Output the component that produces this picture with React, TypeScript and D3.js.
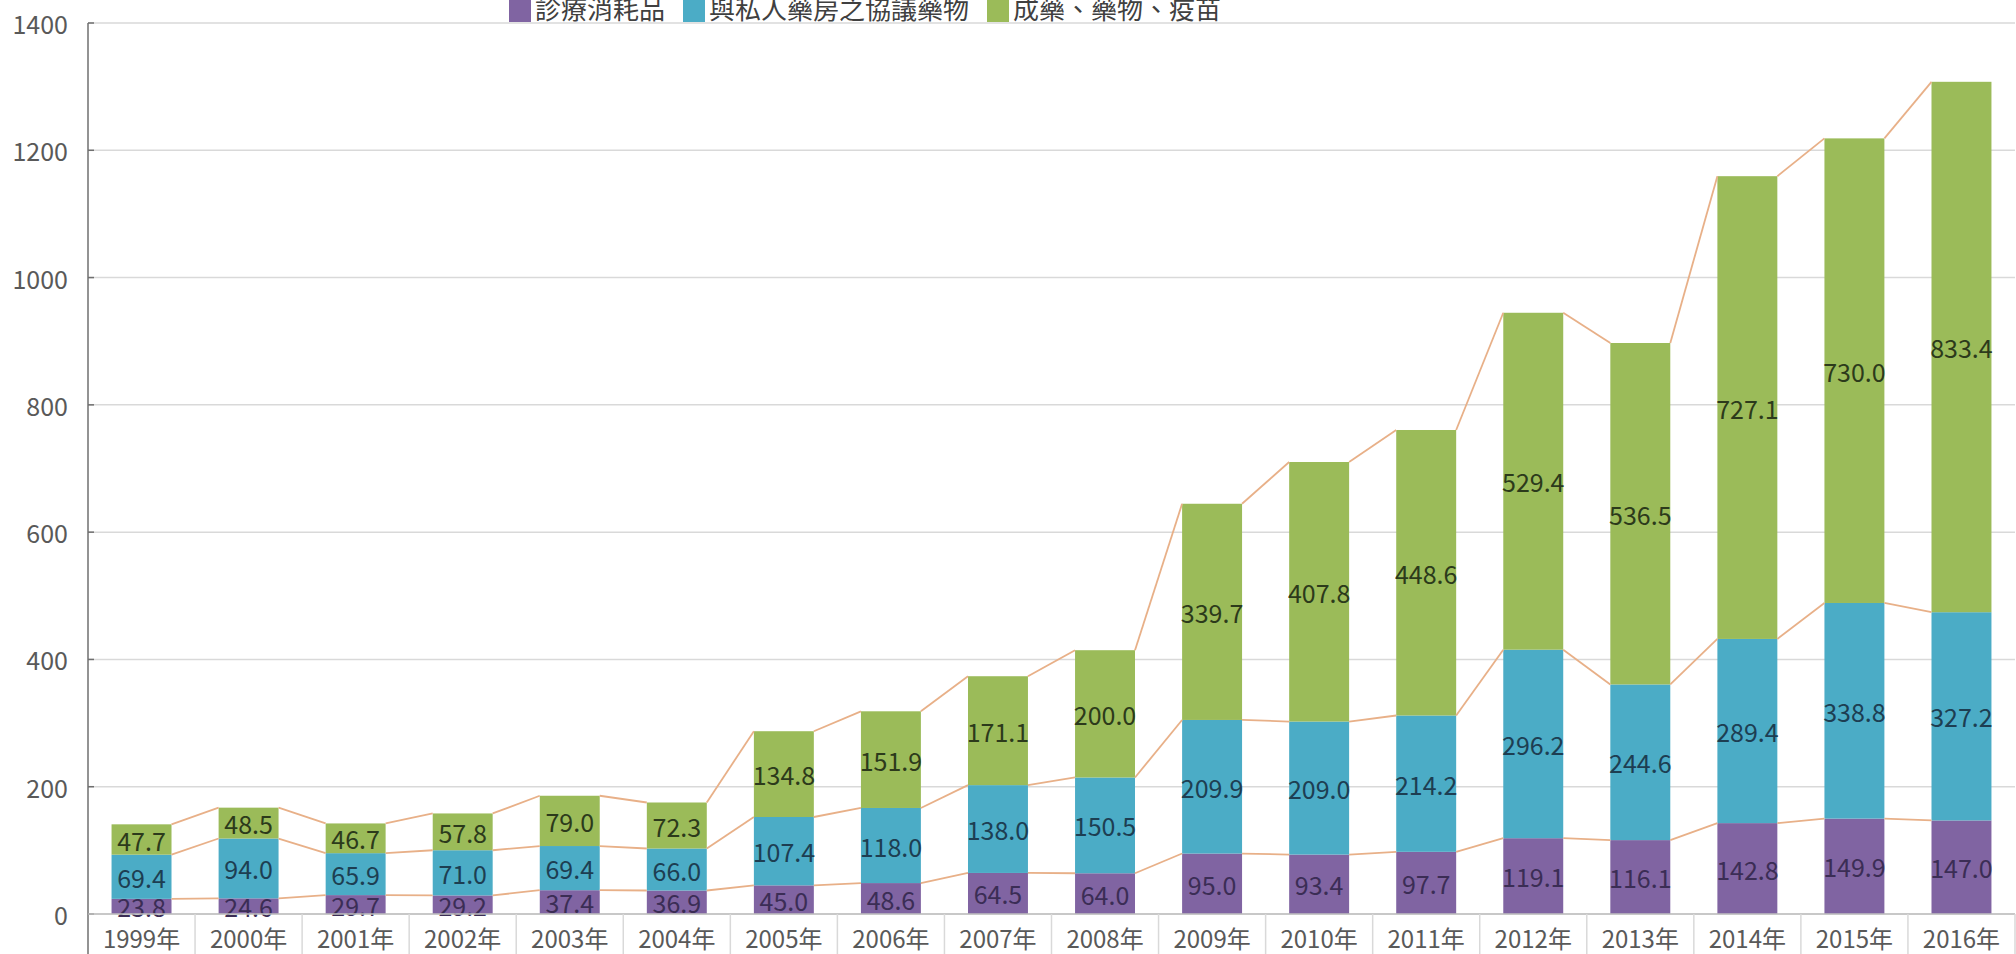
import React from "react";
import * as d3 from "d3";

const years = ["1999年","2000年","2001年","2002年","2003年","2004年","2005年","2006年","2007年","2008年","2009年","2010年","2011年","2012年","2013年","2014年","2015年","2016年"];
const consumables = [23.8,24.6,29.7,29.2,37.4,36.9,45.0,48.6,64.5,64.0,95.0,93.4,97.7,119.1,116.1,142.8,149.9,147.0];
const pharmacyDrugs = [69.4,94.0,65.9,71.0,69.4,66.0,107.4,118.0,138.0,150.5,209.9,209.0,214.2,296.2,244.6,289.4,338.8,327.2];
const medicines = [47.7,48.5,46.7,57.8,79.0,72.3,134.8,151.9,171.1,200.0,339.7,407.8,448.6,529.4,536.5,727.1,730.0,833.4];
const seriesNames = ["診療消耗品","與私人藥房之協議藥物","成藥、藥物、疫苗"];
const yTicks = [0,200,400,600,800,1000,1200,1400];

const W = 2016, H = 954;
const left = 88, right = 2015, top = 23, bottom = 914;
const colors = ["#8064A2","#4BACC6","#9BBB59"];
const labelColors = ["#3b2d55","#1d3e52","#2c3a1b"];
const FONT = "'Noto Sans CJK TC', 'Noto Sans', sans-serif";

export default function App() {
  const x = d3.scaleBand<string>().domain(years).range([left, right]).paddingInner(0.44).paddingOuter(0.22);
  const y = d3.scaleLinear().domain([0, 1400]).range([bottom, top]);
  const seriesVals = [consumables, pharmacyDrugs, medicines];
  const table = years.map((yr, i) => ({ year: yr, s0: consumables[i], s1: pharmacyDrugs[i], s2: medicines[i] }));
  const stack = d3.stack<any>().keys(["s0","s1","s2"])(table);
  const bw = x.bandwidth();
  const step = x.step();

  const lineGen = d3.line<[number, number]>().x(d => d[0]).y(d => d[1]);

  // legend layout
  const legFont = 26;
  let lx = 509;
  const legendItems = seriesNames.map((n, i) => {
    const item = { name: n, x: lx, color: colors[i] };
    lx += 22 + 4 + n.length * legFont + 18;
    return item;
  });

  return (
    <svg width={W} height={H} style={{ position: "absolute", left: 0, top: 0, background: "#fff", display: "block" }}>
      <rect x={0} y={0} width={W} height={H} fill="#fff" />
      {/* gridlines */}
      {yTicks.map(t => (
        <line key={t} x1={left} x2={right} y1={y(t)} y2={y(t)} stroke="#d9d9d9" strokeWidth={1.5} />
      ))}
      {/* bars */}
      {stack.map((layer, si) => (
        <g key={si}>
          {layer.map((d, i) => (
            <rect key={i} x={x(years[i])} y={y(d[1])} width={bw} height={y(d[0]) - y(d[1])} fill={colors[si]} />
          ))}
        </g>
      ))}
      {/* series lines */}
      {stack.map((layer, si) => (
        <g key={"sl" + si}>
          {layer.slice(0, -1).map((d, i) => {
            const x1 = (x(years[i]) as number) + bw;
            const x2 = x(years[i + 1]) as number;
            const p = lineGen([[x1, y(d[1])], [x2, y(layer[i + 1][1])]]) as string;
            return <path key={i} d={p} stroke="#e8b088" strokeWidth={1.8} fill="none" />;
          })}
        </g>
      ))}
      {/* data labels */}
      {stack.map((layer, si) => (
        <g key={"lb" + si}>
          {layer.map((d, i) => (
            <text key={i} x={(x(years[i]) as number) + bw / 2} y={y((d[0] + d[1]) / 2)} textAnchor="middle"
              dominantBaseline="central" fontFamily={FONT} fontSize={25} fill={labelColors[si]}>
              {seriesVals[si][i].toFixed(1)}
            </text>
          ))}
        </g>
      ))}
      {/* y axis */}
      <line x1={left} x2={left} y1={top} y2={H} stroke="#6f6f6f" strokeWidth={1.5} />
      {yTicks.map(t => (
        <g key={"yt" + t}>
          <line x1={left} x2={left + 6} y1={y(t)} y2={y(t)} stroke="#6f6f6f" strokeWidth={1.5} />
          <text x={68} y={y(t)} textAnchor="end" dominantBaseline="central" fontFamily={FONT} fontSize={25} fill="#595959">{t}</text>
        </g>
      ))}
      {/* x axis */}
      <line x1={left} x2={right} y1={bottom} y2={bottom} stroke="#bfbfbf" strokeWidth={1.5} />
      {years.map((yr, i) => (
        <g key={"xl" + i}>
          <line x1={left + step * (i + 1)} x2={left + step * (i + 1)} y1={bottom} y2={H} stroke="#d9d9d9" strokeWidth={1.5} />
          <text x={(x(yr) as number) + bw / 2} y={948} textAnchor="middle" fontFamily={FONT} fontSize={24} fill="#595959">{yr}</text>
        </g>
      ))}
      {/* legend */}
      {legendItems.map((it, i) => (
        <g key={"lg" + i}>
          <rect x={it.x} y={-1} width={22} height={23} fill={it.color} />
          <text x={it.x + 26} y={19} fontFamily={FONT} fontSize={legFont} fill="#404040">{it.name}</text>
        </g>
      ))}
    </svg>
  );
}
